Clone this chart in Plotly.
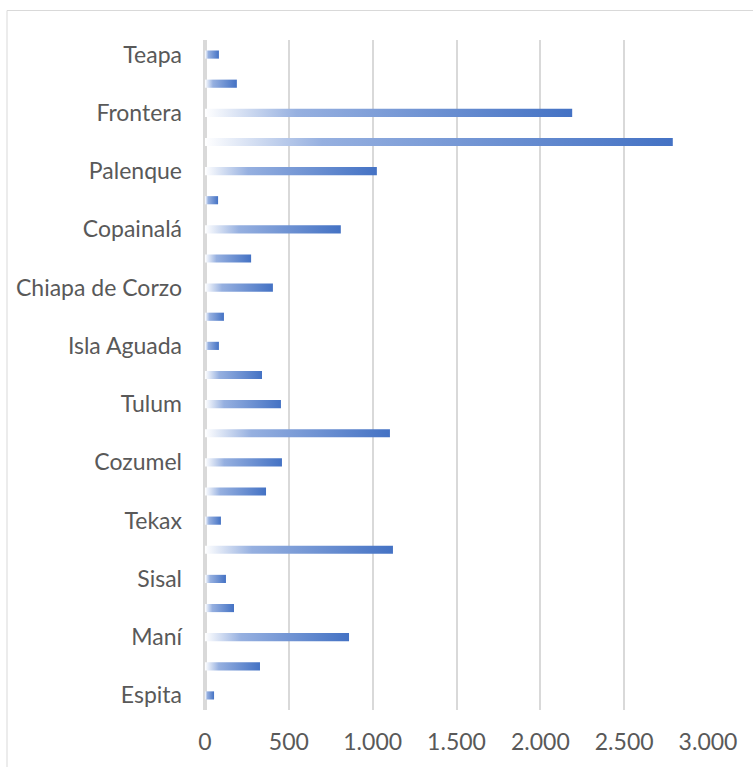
import plotly.graph_objects as go

# Categories bottom -> top (only every other label shown in the reference)
labels = ["Espita", "", "Maní", "", "Sisal", "", "Tekax", "", "Cozumel", "",
          "Tulum", "", "Isla Aguada", "", "Chiapa de Corzo", "", "Copainalá", "",
          "Palenque", "", "Frontera", "", "Teapa"]
values = [54, 328, 859, 173, 125, 1121, 95, 364, 459, 1103,
          453, 340, 83, 113, 405, 275, 810, 78, 1025, 2790,
          2190, 190, 83]
x_ticks = [0, 500, 1000, 1500, 2000, 2500, 3000]
x_tick_text = ["0", "500", "1.000", "1.500", "2.000", "2.500", "3.000"]

half = 0.14
fig = go.Figure()
for i, v in enumerate(values):
    fig.add_trace(go.Scatter(
        x=[0, v, v, 0, 0],
        y=[i - half, i - half, i + half, i + half, i - half],
        mode="lines", fill="toself",
        line=dict(width=0),
        fillgradient=dict(type="horizontal",
                          colorscale=[[0, "rgba(255,255,255,1)"],
                                      [0.25, "rgb(150,176,224)"],
                                      [1, "rgb(68,114,196)"]]),
        hoverinfo="skip", showlegend=False,
    ))

fig.update_layout(
    width=753, height=767,
    margin=dict(l=205, r=45, t=40, b=57),
    paper_bgcolor="white", plot_bgcolor="white",
    font=dict(family="Lato", size=23, color="#595959"),
    xaxis=dict(range=[0, 3000], tickvals=x_ticks, ticktext=x_tick_text,
               showgrid=True, gridcolor="#D9D9D9", gridwidth=2,
               zeroline=True, zerolinecolor="#D9D9D9", zerolinewidth=4,
               showline=False, ticks="", ticklabelstandoff=16,
               automargin=False, fixedrange=True),
    yaxis=dict(range=[-0.5, len(values) - 0.5],
               tickvals=list(range(len(labels))), ticktext=labels,
               showgrid=False, zeroline=False, showline=False,
               ticks="", ticklabelstandoff=22, automargin=False,
               fixedrange=True),
    shapes=[dict(type="rect", xref="paper", yref="paper",
                 x0=(7 - 205) / 503, x1=(760 - 205) / 503,
                 y0=(710 - 780) / 670, y1=(710 - 10.5) / 670,
                 line=dict(color="#D9D9D9", width=1), layer="below")],
)

fig.write_html("out.html")
